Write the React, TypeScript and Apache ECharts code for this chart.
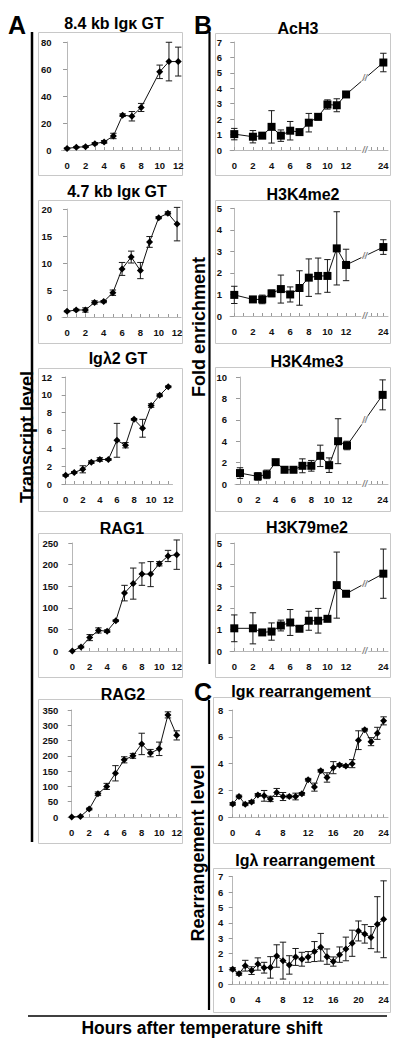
import React, { useEffect, useRef } from 'react';
import * as echarts from 'echarts';

const FONT = '"Liberation Sans", Arial, Helvetica, sans-serif';

// ---------- Panel A: transcript levels (hours 0-12) ----------
const hoursA = [0, 1, 2, 3, 4, 5, 6, 7, 8, 9, 10, 11, 12];
const gt84Hours = [0, 1, 2, 3, 4, 5, 6, 7, 8, 10, 11, 12];
const gt84Mean = [1.2, 2, 2.5, 4.7, 6, 10.4, 25.8, 25, 31.5, 57.9, 65.5, 65.5];
const gt84Err = [0.4, 0.4, 0.6, 0.8, 1, 2, 1, 3.5, 3, 5, 14.3, 10.7];
const gt47Mean = [1.05, 1.3, 1.3, 2.7, 2.85, 4.5, 8.9, 11.1, 8.6, 13.9, 18.4, 19.2, 17.2];
const gt47Err = [0.1, 0.15, 0.4, 0.3, 0.2, 0.5, 1.2, 1.1, 1.5, 1, 0.2, 0.3, 3.1];
const lam2Mean = [0.97, 1.3, 1.65, 2.45, 2.75, 2.75, 4.9, 4.35, 7.25, 6.25, 8.8, 9.95, 10.9];
const lam2Err = [0.1, 0.1, 0.4, 0.15, 0.2, 0.1, 1.9, 0.3, 0.1, 1, 0.2, 0.15, 0.1];
const rag1Mean = [0, 9.4, 31, 47.6, 46, 70, 134, 156, 178, 178, 202, 220, 223];
const rag1Err = [0, 2, 7, 6, 3, 2, 18, 36, 26, 29, 5, 13, 34];
const rag2Mean = [0, 2, 26, 76, 100, 143, 187, 200, 239, 209, 223, 334, 267];
const rag2Err = [0, 1, 3, 6, 10, 25, 10, 8, 35, 12, 22, 10, 15];

// ---------- Panel B: fold enrichment (hours 0-12, 24) ----------
const hoursB = [0, 2, 3, 4, 5, 6, 7, 8, 9, 10, 11, 12, 24];
const ach3Mean = [1.03, 0.86, 0.93, 1.5, 0.93, 1.25, 1.16, 1.77, 2.15, 2.95, 2.9, 3.6, 5.67];
const ach3Err = [0.37, 0.4, 0.1, 1.05, 0.37, 0.6, 0.15, 0.6, 0.2, 0.3, 0.42, 0.08, 0.6];
const k4me2Mean = [0.98, 0.77, 0.77, 1.05, 1.25, 1.0, 1.3, 1.78, 1.86, 1.86, 3.14, 2.37, 3.2];
const k4me2Err = [0.4, 0.1, 0.2, 0.15, 0.65, 0.35, 0.8, 0.87, 0.83, 0.76, 1.7, 0.73, 0.34];
const k4me3Mean = [1.02, 0.71, 0.9, 2.04, 1.33, 1.33, 1.7, 1.7, 2.63, 1.76, 4.0, 3.6, 8.33];
const k4me3Err = [0.5, 0.35, 0.4, 0.1, 0.1, 0.1, 0.65, 0.5, 1.0, 0.68, 2.1, 0.4, 1.4];
const k79me2Mean = [1.05, 1.05, 0.86, 0.9, 1.18, 1.32, 1.03, 1.4, 1.4, 1.49, 3.05, 2.65, 3.58];
const k79me2Err = [0.62, 0.72, 0.1, 0.4, 0.25, 0.6, 0.1, 0.44, 0.57, 0.1, 1.53, 0.05, 1.14];

// ---------- Panel C: rearrangement level (hours 0-24) ----------
const hoursC = [0, 1, 2, 3, 4, 5, 6, 7, 8, 9, 10, 11, 12, 13, 14, 15, 16, 17, 18, 19, 20, 21, 22, 23, 24];
const kapMean = [1.0, 1.55, 0.97, 1.15, 1.67, 1.6, 1.37, 1.85, 1.55, 1.55, 1.55, 1.75, 2.8, 2.25, 3.47, 2.97, 3.7, 3.9, 3.82, 4.0, 5.75, 6.53, 5.64, 6.26, 7.19];
const kapErr = [0.1, 0.1, 0.1, 0.1, 0.1, 0.4, 0.2, 0.3, 0.3, 0.1, 0.25, 0.1, 0.1, 0.3, 0.1, 0.35, 0.45, 0.1, 0.1, 0.3, 0.7, 0.1, 0.3, 0.45, 0.3];
const lamMean = [0.98, 0.69, 1.21, 0.89, 1.32, 1.08, 1.1, 1.84, 1.54, 1.26, 1.78, 1.63, 1.78, 2.13, 2.41, 1.8, 1.48, 1.93, 2.3, 2.67, 3.47, 3.28, 3.04, 3.9, 4.23];
const lamErr = [0.1, 0.1, 0.35, 0.25, 0.4, 0.35, 0.7, 0.73, 1.2, 0.6, 0.55, 0.45, 0.35, 0.65, 0.9, 0.5, 0.3, 0.5, 0.77, 0.85, 0.65, 0.6, 0.72, 1.8, 2.5];

// tick labels
const ticksA = [0, 2, 4, 6, 8, 10, 12];
const minorA = [0, 1, 2, 3, 4, 5, 6, 7, 8, 9, 10, 11, 12];
const ticksB = [0, 2, 4, 6, 8, 10, 12, 24];
const ticksC = [0, 4, 8, 12, 16, 20, 24];

// broken time axis in panel B: 12 -> 24 h compressed
const mapB = (h: number) => (h <= 12 ? h : 12 + (h - 12) / 3);
const ident = (h: number) => h;

type Panel = {
  title: string; hours: number[]; mean: number[]; err: number[];
  kind: 'A' | 'B' | 'C';
  yMax: number; yInt: number;
  grid: { left: number; top: number; width: number; height: number };
  xMin: number; xMax: number;
  titleX: number; titleY: number;
  frame: [number, number, number, number];
};

const panels: Panel[] = [
  { title: '8.4 kb Igκ GT', hours: gt84Hours, mean: gt84Mean, err: gt84Err, kind: 'A', yMax: 80, yInt: 20,
    grid: { left: 61.5, top: 42, width: 119.5, height: 108 }, xMin: -0.6, xMax: 12.3, titleX: 114, titleY: 23, frame: [38, 32, 144, 143] },
  { title: '4.7 kb Igκ GT', hours: hoursA, mean: gt47Mean, err: gt47Err, kind: 'A', yMax: 20, yInt: 5,
    grid: { left: 62, top: 209, width: 119, height: 108 }, xMin: -0.55, xMax: 12.43, titleX: 117, titleY: 191, frame: [38, 200, 144, 143] },
  { title: 'Igλ2 GT', hours: hoursA, mean: lam2Mean, err: lam2Err, kind: 'A', yMax: 12, yInt: 2,
    grid: { left: 62, top: 377, width: 110.5, height: 107 }, xMin: -0.43, xMax: 12.5, titleX: 118, titleY: 358, frame: [38, 368, 144, 143] },
  { title: 'RAG1', hours: hoursA, mean: rag1Mean, err: rag1Err, kind: 'A', yMax: 250, yInt: 50,
    grid: { left: 68.3, top: 543, width: 112.7, height: 108 }, xMin: -0.46, xMax: 12.49, titleX: 122, titleY: 528, frame: [38, 533, 144, 144] },
  { title: 'RAG2', hours: hoursA, mean: rag2Mean, err: rag2Err, kind: 'A', yMax: 350, yInt: 50,
    grid: { left: 68.3, top: 710, width: 112.7, height: 107 }, xMin: -0.39, xMax: 12.49, titleX: 123, titleY: 694, frame: [38, 699, 144, 144] },
  { title: 'AcH3', hours: hoursB, mean: ach3Mean, err: ach3Err, kind: 'B', yMax: 7, yInt: 1,
    grid: { left: 230, top: 42, width: 158, height: 108 }, xMin: -0.46, xMax: 16.5, titleX: 298, titleY: 28, frame: [215, 33, 175, 142] },
  { title: 'H3K4me2', hours: hoursB, mean: k4me2Mean, err: k4me2Err, kind: 'B', yMax: 5, yInt: 1,
    grid: { left: 230, top: 208.3, width: 158, height: 107.7 }, xMin: -0.46, xMax: 16.5, titleX: 303, titleY: 194, frame: [215, 200, 175, 143] },
  { title: 'H3K4me3', hours: hoursB, mean: k4me3Mean, err: k4me3Err, kind: 'B', yMax: 10, yInt: 2,
    grid: { left: 235, top: 377, width: 153, height: 107 }, xMin: -0.56, xMax: 16.6, titleX: 307, titleY: 361, frame: [215, 367, 175, 144] },
  { title: 'H3K79me2', hours: hoursB, mean: k79me2Mean, err: k79me2Err, kind: 'B', yMax: 5, yInt: 1,
    grid: { left: 230, top: 543, width: 158, height: 108 }, xMin: -0.46, xMax: 16.5, titleX: 307, titleY: 527, frame: [215, 533, 175, 144] },
  { title: 'Igκ rearrangement', hours: hoursC, mean: kapMean, err: kapErr, kind: 'C', yMax: 8, yInt: 2,
    grid: { left: 228.3, top: 710, width: 159.7, height: 107.3 }, xMin: -0.7, xMax: 24.7, titleX: 301, titleY: 691, frame: [213, 697, 177, 146] },
  { title: 'Igλ rearrangement', hours: hoursC, mean: lamMean, err: lamErr, kind: 'C', yMax: 7, yInt: 1,
    grid: { left: 228.3, top: 876.7, width: 159.7, height: 107.6 }, xMin: -0.7, xMax: 24.7, titleX: 305, titleY: 860, frame: [213, 868, 177, 144] },
];

const errRender = (params: any, api: any) => {
  const x = api.value(0);
  const y = api.value(1);
  const e = api.value(2);
  if (!e) return null;
  const p1 = api.coord([x, y + e]);
  const p2 = api.coord([x, y - e]);
  const c = 3.2;
  const st = { stroke: '#1a1a1a', lineWidth: 1 };
  return {
    type: 'group',
    children: [
      { type: 'line', shape: { x1: p1[0], y1: p1[1], x2: p2[0], y2: p2[1] }, style: st },
      { type: 'line', shape: { x1: p1[0] - c, y1: p1[1], x2: p1[0] + c, y2: p1[1] }, style: st },
      { type: 'line', shape: { x1: p2[0] - c, y1: p2[1], x2: p2[0] + c, y2: p2[1] }, style: st },
    ],
  };
};

function buildOption() {
  const grid: any[] = [];
  const xAxis: any[] = [];
  const yAxis: any[] = [];
  const series: any[] = [];
  const graphic: any[] = [];

  panels.forEach((p, i) => {
    const map = p.kind === 'B' ? mapB : ident;
    grid.push({ ...p.grid, containLabel: false });
    const labelVals = p.kind === 'A' ? ticksA : p.kind === 'B' ? ticksB.map(mapB) : ticksC;
    const tickVals = p.kind === 'A' ? minorA : p.kind === 'B'
      ? [0, 1, 2, 3, 4, 5, 6, 7, 8, 9, 10, 11, 12, 13, 14.7, 15.35, 16]
      : hoursC;
    xAxis.push({
      type: 'value', gridIndex: i, min: p.xMin, max: p.xMax,
      axisLine: { show: true, onZero: false, lineStyle: { color: '#b8b8b8', width: 1 } },
      axisTick: { show: true, inside: true, length: 3, customValues: tickVals, lineStyle: { color: '#999' } },
      axisLabel: {
        customValues: labelVals, fontSize: 9.5, fontWeight: 'bold', color: '#111', fontFamily: FONT, margin: 10,
        formatter: (v: number) => (p.kind === 'B' && v > 12 ? '24' : String(Math.round(v))),
      },
      splitLine: { show: false },
    });
    yAxis.push({
      type: 'value', gridIndex: i, min: 0, max: p.yMax, interval: p.yInt,
      axisLine: { show: true, lineStyle: { color: '#b8b8b8', width: 1 } },
      axisTick: { show: true, length: 4, lineStyle: { color: '#999' } },
      axisLabel: { fontSize: 9.5, fontWeight: 'bold', color: '#111', fontFamily: FONT, margin: p.kind === 'A' ? 10 : p.kind === 'B' ? 8 : 5 },
      splitLine: { show: false },
    });
    const pts = p.hours.map((h, k) => [map(h), p.mean[k]]);
    series.push({
      type: 'line', xAxisIndex: i, yAxisIndex: i, data: pts,
      symbol: p.kind === 'B' ? 'rect' : 'diamond', symbolSize: p.kind === 'B' ? 8 : 7,
      lineStyle: { color: '#111', width: 1 }, itemStyle: { color: '#000' },
      clip: false, z: 3,
    });
    series.push({
      type: 'custom', xAxisIndex: i, yAxisIndex: i,
      data: p.hours.map((h, k) => [map(h), p.mean[k], p.err[k]]),
      renderItem: errRender, encode: { x: 0, y: 1 }, clip: false, z: 2,
    });
    if (p.kind === 'B') {
      const n = p.hours.length;
      const bx = 14;
      const frac = (bx - mapB(p.hours[n - 2])) / (mapB(p.hours[n - 1]) - mapB(p.hours[n - 2]));
      const by = p.mean[n - 2] + (p.mean[n - 1] - p.mean[n - 2]) * frac;
      series.push({
        type: 'scatter', xAxisIndex: i, yAxisIndex: i, data: [[bx, 0], [bx, by]],
        symbol: 'circle', symbolSize: 1, itemStyle: { color: 'rgba(0,0,0,0)' }, clip: false, z: 6,
        silent: true,
        label: {
          show: true, position: 'inside', formatter: '//', fontSize: 9, fontWeight: 'bold', fontStyle: 'italic',
          color: '#666', backgroundColor: '#fff', padding: [0, 1], fontFamily: FONT,
        },
      });
    }
    graphic.push({
      type: 'rect', shape: { x: p.frame[0] + 0.5, y: p.frame[1] + 0.5, width: p.frame[2], height: p.frame[3] },
      style: { fill: 'none', stroke: '#c8c8c8', lineWidth: 1 }, silent: true,
    });
    graphic.push({
      type: 'text', x: p.titleX, y: p.titleY,
      style: { text: p.title, fontSize: 16, fontWeight: 'bold', fontFamily: FONT, fill: '#000', textAlign: 'center', textVerticalAlign: 'middle' },
    });
  });

  const letter = (t: string, x: number, y: number) => ({
    type: 'text', x, y,
    style: { text: t, fontSize: 25, fontWeight: 'bold', fontFamily: FONT, fill: '#000', textAlign: 'left', textVerticalAlign: 'middle' },
  });
  graphic.push(letter('A', 8, 25), letter('B', 194, 25), letter('C', 194, 692));

  const vline = (x: number, y1: number, y2: number, w: number) => ({
    type: 'line', shape: { x1: x, y1, x2: x, y2 }, style: { stroke: '#000', lineWidth: w }, silent: true,
  });
  graphic.push(vline(32, 32, 842, 2.5), vline(209.5, 32, 664, 2.2), vline(209, 700, 1010, 2.2));
  graphic.push({ type: 'line', shape: { x1: 28, y1: 1016, x2: 387, y2: 1016 }, style: { stroke: '#000', lineWidth: 1.5 } });

  const rot = (t: string, x: number, y: number) => ({
    type: 'text', x, y, rotation: Math.PI / 2,
    style: { text: t, fontSize: 18, fontWeight: 'bold', fontFamily: FONT, fill: '#000', textAlign: 'center', textVerticalAlign: 'middle' },
  });
  graphic.push(rot('Transcript level', 27, 437), rot('Fold enrichment', 199, 327), rot('Rearrangement level', 198, 853));
  graphic.push({
    type: 'text', x: 202, y: 1028,
    style: { text: 'Hours after temperature shift', fontSize: 17.5, fontWeight: 'bold', fontFamily: FONT, fill: '#000', textAlign: 'center', textVerticalAlign: 'middle' },
  });

  return {
    animation: false,
    backgroundColor: '#fff',
    textStyle: { fontFamily: FONT },
    grid, xAxis, yAxis, series, graphic,
  };
}

export default function App() {
  const ref = useRef<HTMLDivElement>(null);
  useEffect(() => {
    if (!ref.current) return;
    const chart = echarts.init(ref.current, null, { renderer: 'svg' });
    chart.setOption(buildOption() as any);
    return () => chart.dispose();
  }, []);
  return <div ref={ref} style={{ position: 'absolute', left: 0, top: 0, width: 400, height: 1044 }} />;
}
